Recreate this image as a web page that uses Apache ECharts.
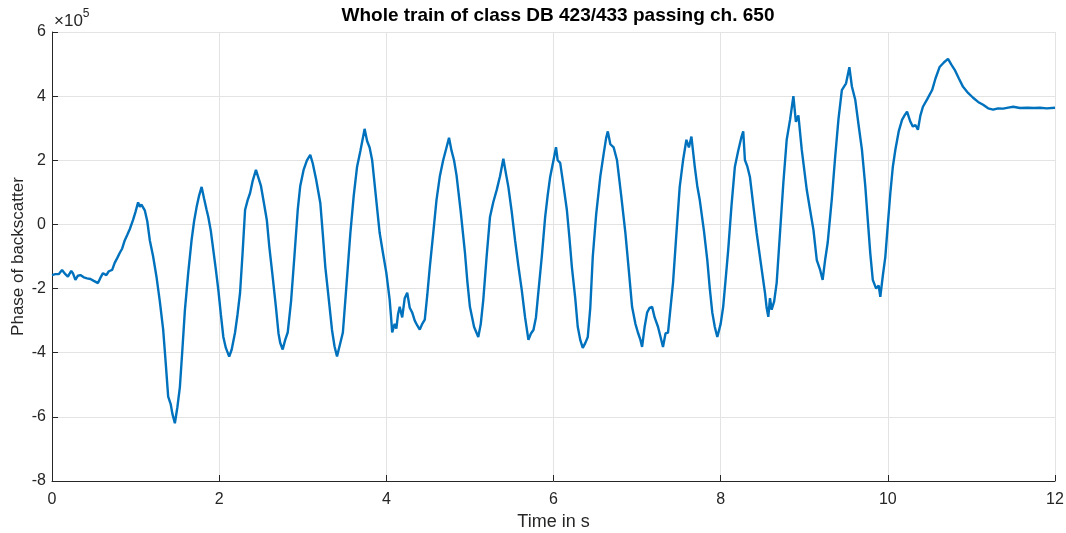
<!DOCTYPE html>
<html>
<head>
<meta charset="utf-8">
<script src="https://cdn.jsdelivr.net/npm/echarts@6/dist/echarts.min.js"></script>
<style>
  html, body { margin: 0; padding: 0; background: #fff; }
  #chart { width: 1066px; height: 533px; }
</style>
</head>
<body>
<div id="chart"></div>
<script>
// time in seconds
const times = [
    0.00, 0.04, 0.08, 0.12, 0.16, 0.19, 0.23, 0.25, 0.28, 0.31, 0.34, 0.38, 0.42, 0.46, 0.50, 0.55, 0.58, 0.61, 0.65, 0.68,
    0.72, 0.75, 0.78, 0.81, 0.84, 0.87, 0.90, 0.93, 0.97, 1.00, 1.03, 1.05, 1.07, 1.11, 1.14, 1.17, 1.21, 1.25, 1.29, 1.33,
    1.36, 1.39, 1.42, 1.44, 1.47, 1.50, 1.53, 1.56, 1.59, 1.63, 1.67, 1.70, 1.73, 1.76, 1.79, 1.82, 1.85, 1.87, 1.90, 1.93,
    1.96, 1.99, 2.02, 2.05, 2.08, 2.12, 2.15, 2.19, 2.22, 2.25, 2.28, 2.31, 2.34, 2.37, 2.40, 2.44, 2.47, 2.50, 2.54, 2.57,
    2.60, 2.64, 2.68, 2.71, 2.73, 2.76, 2.79, 2.82, 2.86, 2.90, 2.94, 2.97, 3.01, 3.05, 3.09, 3.12, 3.16, 3.21, 3.24, 3.27,
    3.31, 3.35, 3.38, 3.41, 3.44, 3.48, 3.52, 3.57, 3.61, 3.65, 3.69, 3.72, 3.74, 3.77, 3.80, 3.83, 3.87, 3.92, 3.96, 4.00,
    4.04, 4.06, 4.07, 4.10, 4.12, 4.14, 4.16, 4.19, 4.22, 4.25, 4.28, 4.31, 4.34, 4.37, 4.40, 4.43, 4.46, 4.49, 4.52, 4.56,
    4.60, 4.64, 4.68, 4.72, 4.75, 4.78, 4.81, 4.84, 4.89, 4.94, 4.97, 5.00, 5.05, 5.10, 5.13, 5.16, 5.20, 5.24, 5.28, 5.32,
    5.36, 5.40, 5.43, 5.46, 5.50, 5.54, 5.58, 5.62, 5.66, 5.70, 5.73, 5.76, 5.79, 5.81, 5.86, 5.90, 5.93, 5.96, 6.00, 6.03,
    6.05, 6.08, 6.12, 6.16, 6.19, 6.22, 6.26, 6.29, 6.32, 6.35, 6.38, 6.41, 6.44, 6.47, 6.51, 6.56, 6.60, 6.63, 6.65, 6.68,
    6.72, 6.76, 6.81, 6.86, 6.90, 6.94, 6.98, 7.01, 7.04, 7.06, 7.09, 7.12, 7.15, 7.18, 7.21, 7.25, 7.28, 7.31, 7.34, 7.37,
    7.40, 7.43, 7.47, 7.51, 7.55, 7.59, 7.62, 7.65, 7.69, 7.72, 7.75, 7.80, 7.84, 7.87, 7.90, 7.93, 7.96, 8.00, 8.03, 8.06,
    8.09, 8.13, 8.17, 8.21, 8.25, 8.27, 8.29, 8.32, 8.35, 8.39, 8.43, 8.48, 8.53, 8.55, 8.57, 8.59, 8.61, 8.64, 8.67, 8.71,
    8.75, 8.79, 8.83, 8.87, 8.90, 8.93, 8.97, 9.03, 9.07, 9.11, 9.15, 9.19, 9.22, 9.25, 9.28, 9.33, 9.37, 9.41, 9.45, 9.50,
    9.54, 9.57, 9.61, 9.65, 9.69, 9.73, 9.76, 9.79, 9.82, 9.86, 9.89, 9.91, 9.94, 9.97, 10.00, 10.03, 10.06, 10.09, 10.13, 10.17,
    10.20, 10.23, 10.27, 10.30, 10.33, 10.36, 10.39, 10.42, 10.47, 10.53, 10.57, 10.62, 10.67, 10.72, 10.76, 10.80, 10.85, 10.90, 10.96, 11.02,
    11.08, 11.14, 11.20, 11.26, 11.32, 11.38, 11.44, 11.50, 11.58, 11.67, 11.75, 11.82, 11.90, 12.00
];

// phase of backscatter, in units of 1e5
const phaseE5 = [
    -1.58, -1.55, -1.55, -1.42, -1.55, -1.63, -1.45, -1.52, -1.73, -1.60, -1.58, -1.65, -1.68, -1.70, -1.76, -1.83, -1.66, -1.52, -1.58, -1.46,
    -1.42, -1.20, -1.05, -0.89, -0.75, -0.50, -0.33, -0.15, 0.14, 0.40, 0.69, 0.55, 0.62, 0.44, 0.10, -0.49, -1.00, -1.63, -2.40, -3.28,
    -4.30, -5.37, -5.60, -5.90, -6.20, -5.70, -5.07, -3.90, -2.67, -1.50, -0.49, 0.10, 0.54, 0.90, 1.17, 0.80, 0.45, 0.23, -0.20, -0.80,
    -1.40, -2.04, -2.80, -3.51, -3.85, -4.12, -3.90, -3.37, -2.80, -2.13, -0.90, 0.45, 0.75, 0.98, 1.35, 1.70, 1.45, 1.20, 0.60, 0.14,
    -0.70, -1.63, -2.60, -3.40, -3.69, -3.90, -3.60, -3.37, -2.40, -1.00, 0.45, 1.20, 1.70, 2.00, 2.17, 1.90, 1.40, 0.67, -0.30, -1.33,
    -2.30, -3.29, -3.80, -4.12, -3.80, -3.37, -2.00, -0.26, 0.90, 1.80, 2.30, 2.70, 2.98, 2.60, 2.40, 2.01, 1.00, -0.26, -0.90, -1.51,
    -2.35, -3.00, -3.37, -3.10, -3.25, -2.80, -2.57, -2.90, -2.30, -2.13, -2.60, -2.75, -3.00, -3.15, -3.28, -3.10, -2.97, -2.20, -1.33, -0.30,
    0.76, 1.50, 2.00, 2.40, 2.70, 2.30, 2.00, 1.53, 0.40, -0.86, -1.80, -2.57, -3.20, -3.51, -3.10, -2.35, -1.00, 0.23, 0.70, 1.07,
    1.50, 2.05, 1.60, 1.17, 0.40, -0.49, -1.30, -2.04, -2.90, -3.60, -3.40, -3.29, -2.90, -2.35, -1.00, 0.23, 0.90, 1.48, 2.00, 2.41,
    2.00, 1.92, 1.20, 0.45, -0.40, -1.33, -2.30, -3.19, -3.60, -3.85, -3.70, -3.51, -2.60, -1.00, 0.30, 1.50, 2.20, 2.70, 2.90, 2.50,
    2.40, 2.00, 0.90, -0.26, -1.40, -2.57, -3.10, -3.37, -3.60, -3.82, -3.20, -2.75, -2.60, -2.57, -2.90, -3.19, -3.50, -3.82, -3.40, -3.37,
    -2.60, -1.82, -0.30, 1.17, 2.00, 2.64, 2.40, 2.74, 1.80, 1.20, 0.76, -0.20, -1.11, -2.00, -2.75, -3.20, -3.51, -3.10, -2.57, -1.70,
    -0.80, 0.60, 1.80, 2.30, 2.74, 2.90, 2.01, 1.80, 1.48, 0.60, -0.26, -1.20, -2.13, -2.60, -2.88, -2.30, -2.66, -2.40, -1.82, -0.26,
    1.30, 2.64, 3.26, 4.00, 3.20, 3.40, 2.33, 1.08, 0.45, -0.17, -1.11, -1.42, -1.73, -1.10, -0.58, 0.80, 2.11, 3.30, 4.19, 4.40,
    4.90, 4.30, 3.89, 3.10, 2.33, 1.20, 0.14, -0.90, -1.73, -2.00, -1.90, -2.26, -1.60, -1.01, 0.00, 0.98, 1.80, 2.33, 2.90, 3.26,
    3.40, 3.52, 3.20, 3.05, 3.10, 2.95, 3.40, 3.67, 3.90, 4.19, 4.55, 4.91, 5.05, 5.16, 4.98, 4.82, 4.55, 4.29, 4.10, 3.95,
    3.82, 3.73, 3.62, 3.58, 3.62, 3.61, 3.64, 3.67, 3.63, 3.64, 3.63, 3.64, 3.62, 3.64
];

const xTicks = [0, 2, 4, 6, 8, 10, 12];
const yTicks = [-8, -6, -4, -2, 0, 2, 4, 6];

const FONT = '"Liberation Sans", Arial, sans-serif';
const AXIS_COLOR = '#262626';

let chart = echarts.init(document.getElementById('chart'), null, { renderer: 'canvas' });

let seriesData = times.map((t, i) => [t, phaseE5[i]]);

let option = {
    animation: false,
    backgroundColor: '#ffffff',
    title: {
        text: 'Whole train of class DB 423/433 passing ch. 650',
        left: 553,
        textAlign: 'center',
        top: 1,
        textStyle: { fontFamily: FONT, fontSize: 19, fontWeight: 'bold', color: '#000' }
    },
    grid: { left: 52, right: 11, top: 32, bottom: 52, outerBoundsMode: 'none', containLabel: false },
    xAxis: {
        type: 'value',
        min: xTicks[0],
        max: xTicks[xTicks.length - 1],
        interval: 2,
        name: 'Time in s',
        nameLocation: 'middle',
        nameGap: 32,
        nameMoveOverlap: false,
        nameTextStyle: { fontFamily: FONT, fontSize: 18, color: AXIS_COLOR },
        axisLine: { onZero: false, lineStyle: { color: AXIS_COLOR, width: 1 } },
        axisTick: { inside: true, length: 6, lineStyle: { color: AXIS_COLOR } },
        axisLabel: { fontFamily: FONT, fontSize: 16, color: AXIS_COLOR, margin: 11 },
        splitLine: { show: true, lineStyle: { color: '#e3e3e3', width: 1 } }
    },
    yAxis: {
        type: 'value',
        min: yTicks[0],
        max: yTicks[yTicks.length - 1],
        interval: 2,
        name: 'Phase of backscatter',
        nameLocation: 'middle',
        nameGap: 25,
        nameMoveOverlap: false,
        nameTextStyle: { fontFamily: FONT, fontSize: 17, color: AXIS_COLOR },
        axisLine: { show: true, onZero: false, lineStyle: { color: AXIS_COLOR, width: 1 } },
        axisTick: { show: true, inside: true, length: 6, lineStyle: { color: AXIS_COLOR } },
        axisLabel: { fontFamily: FONT, fontSize: 16, color: AXIS_COLOR, margin: 6 },
        splitLine: { show: true, lineStyle: { color: '#e3e3e3', width: 1 } }
    },
    graphic: [{
        type: 'text',
        left: 54,
        top: 8,
        style: {
            text: '{a|×10}{b|5}',
            rich: {
                a: { fontFamily: FONT, fontSize: 17, fill: AXIS_COLOR, padding: [6, 0, 0, 0] },
                b: { fontFamily: FONT, fontSize: 12, fill: AXIS_COLOR, padding: [0, 0, 8, 0] }
            }
        }
    }],
    series: [{
        type: 'line',
        data: seriesData,
        showSymbol: false,
        symbol: 'none',
        lineStyle: { color: '#0072BD', width: 2.4 },
        z: 3
    }]
};

chart.setOption(option);
</script>
</body>
</html>
